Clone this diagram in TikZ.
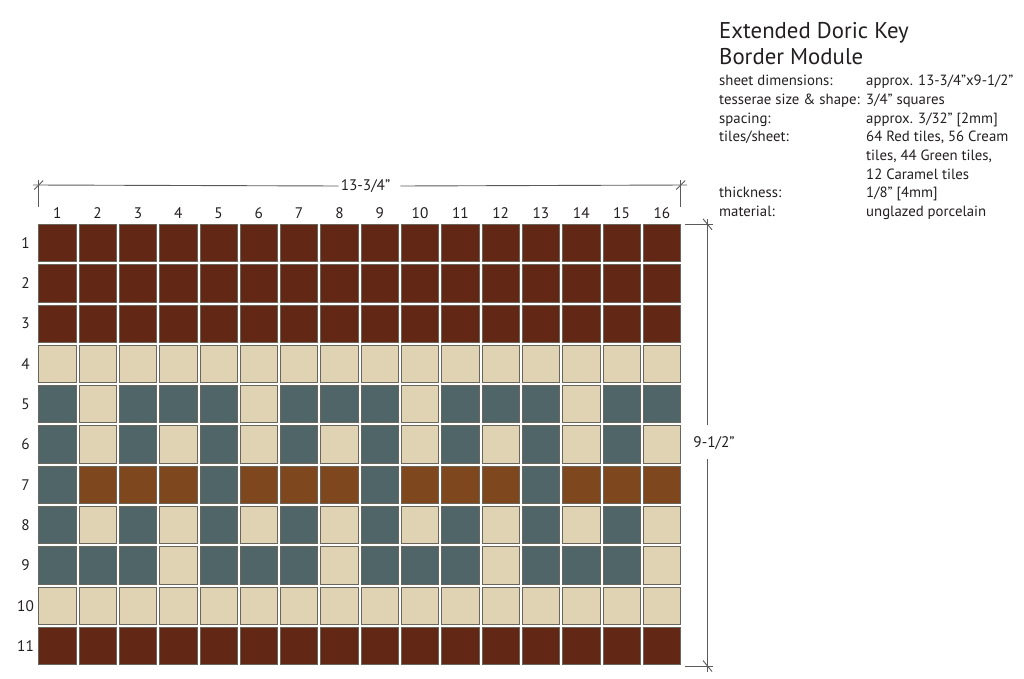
\documentclass[tikz,border=0pt]{standalone}
\usepackage{fontspec}
\setmainfont{PT Sans}
\definecolor{tR}{HTML}{632715}
\definecolor{tC}{HTML}{E0D3B3}
\definecolor{tG}{HTML}{4F6568}
\definecolor{tK}{HTML}{7F471E}
\definecolor{edge}{HTML}{6B665C}
\definecolor{dim}{HTML}{5A5A5A}
\definecolor{ink}{HTML}{231F20}
\newcommand\tilerow[2]{%
  \foreach \col [count=\c] in {#2} {
    \node[tile,fill=\col] (t-#1-\c) at ({57.35+(\c-1)*40.3},{242.95+(#1-1)*40.3}) {};
  }%
  \node[lbl] (r-#1) at (25.5,{242.95+(#1-1)*40.3}) {#1};
}
\begin{document}
\begin{tikzpicture}[x=1pt,y=-1pt,
 tile/.style={draw=edge,line width=0.8pt,minimum size=37.3pt,inner sep=0pt,outer sep=0pt},
 lbl/.style={font=\fontsize{15.3}{18}\selectfont,inner sep=0pt,text=ink},
 spec/.style={font=\fontsize{14.8}{18}\selectfont,inner sep=0pt,anchor=base west,text=ink},
 ttl/.style={font=\fontsize{22.8}{27}\selectfont,inner sep=0pt,anchor=base west,text=ink},
 dimline/.style={draw=dim,line width=0.9pt}]
\useasboundingbox (0,0) rectangle (1024,679);
% tiles
\tilerow{1}{tR,tR,tR,tR,tR,tR,tR,tR,tR,tR,tR,tR,tR,tR,tR,tR}
\tilerow{2}{tR,tR,tR,tR,tR,tR,tR,tR,tR,tR,tR,tR,tR,tR,tR,tR}
\tilerow{3}{tR,tR,tR,tR,tR,tR,tR,tR,tR,tR,tR,tR,tR,tR,tR,tR}
\tilerow{4}{tC,tC,tC,tC,tC,tC,tC,tC,tC,tC,tC,tC,tC,tC,tC,tC}
\tilerow{5}{tG,tC,tG,tG,tG,tC,tG,tG,tG,tC,tG,tG,tG,tC,tG,tG}
\tilerow{6}{tG,tC,tG,tC,tG,tC,tG,tC,tG,tC,tG,tC,tG,tC,tG,tC}
\tilerow{7}{tG,tK,tK,tK,tG,tK,tK,tK,tG,tK,tK,tK,tG,tK,tK,tK}
\tilerow{8}{tG,tC,tG,tC,tG,tC,tG,tC,tG,tC,tG,tC,tG,tC,tG,tC}
\tilerow{9}{tG,tG,tG,tC,tG,tG,tG,tC,tG,tG,tG,tC,tG,tG,tG,tC}
\tilerow{10}{tC,tC,tC,tC,tC,tC,tC,tC,tC,tC,tC,tC,tC,tC,tC,tC}
\tilerow{11}{tR,tR,tR,tR,tR,tR,tR,tR,tR,tR,tR,tR,tR,tR,tR,tR}
% column numbers
\foreach \c in {1,...,16} {
  \node[lbl] (c-\c) at ({57.35+(\c-1)*40.3},213) {\c};
}
% horizontal dimension
\coordinate (hl) at (33,185);
\coordinate (hr) at (687,185);
\coordinate (hel) at (38.7,185);
\coordinate (her) at (680.7,185);
\coordinate (helt) at (38.7,180);
\coordinate (helb) at (38.7,207);
\coordinate (hert) at (680.7,180);
\coordinate (herb) at (680.7,207);
\node[lbl] (hlab) at (365.5,186) {13-3/4”};
\draw[dimline] (hl) -- ([xshift=-2pt]hlab.west);
\draw[dimline] ([xshift=10pt]hlab.east) -- (hr);
\draw[dimline] (helt) -- (helb);
\draw[dimline] (hert) -- (herb);
\draw[dimline] ([shift={(-4.5,4.5)}]hel) -- ([shift={(4.5,-4.5)}]hel);
\draw[dimline] ([shift={(-4.5,4.5)}]her) -- ([shift={(4.5,-4.5)}]her);
% vertical dimension
\coordinate (vt) at (707.5,219);
\coordinate (vb) at (707.5,672);
\coordinate (vet) at (707.5,224.3);
\coordinate (veb) at (707.5,666);
\coordinate (vetl) at (685,224.3);
\coordinate (vetr) at (712.5,224.3);
\coordinate (vebl) at (685,666);
\coordinate (vebr) at (713,666);
\node[lbl] (vlab) at (714,443) {9-1/2”};
\coordinate (vgt) at (707.5,425);
\coordinate (vgb) at (707.5,459);
\draw[dimline] (vt) -- (vgt);
\draw[dimline] (vgb) -- (vb);
\draw[dimline] (vetl) -- (vetr);
\draw[dimline] (vebl) -- (vebr);
\draw[dimline] ([shift={(-4.5,-5.5)}]vet) -- ([shift={(4.5,5.5)}]vet);
\draw[dimline] ([shift={(-4.5,-5.5)}]veb) -- ([shift={(4.5,5.5)}]veb);
% title and specs
\node[ttl] (title1) at (719,38.3) {Extended Doric Key};
\node[ttl] (title2) at (719,65) {Border Module};
\node[spec] (k-1) at (719,86.0) {sheet dimensions:};
\node[spec] (v-1) at (866,86.0) {approx. 13-3/4”x9-1/2”};
\node[spec] (k-2) at (719,104.6) {tesserae size \& shape:};
\node[spec] (v-2) at (866,104.6) {3/4” squares};
\node[spec] (k-3) at (719,123.2) {spacing:};
\node[spec] (v-3) at (866,123.2) {approx. 3/32” [2mm]};
\node[spec] (k-4) at (719,141.8) {tiles/sheet:};
\node[spec] (v-4) at (866,141.8) {64 Red tiles, 56 Cream};
\node[spec] (v-5) at (866,160.4) {tiles, 44 Green tiles,};
\node[spec] (v-6) at (866,179.0) {12 Caramel tiles};
\node[spec] (k-7) at (719,197.6) {thickness:};
\node[spec] (v-7) at (866,197.6) {1/8” [4mm]};
\node[spec] (k-8) at (719,216.2) {material:};
\node[spec] (v-8) at (866,216.2) {unglazed porcelain};
\end{tikzpicture}
\end{document}
